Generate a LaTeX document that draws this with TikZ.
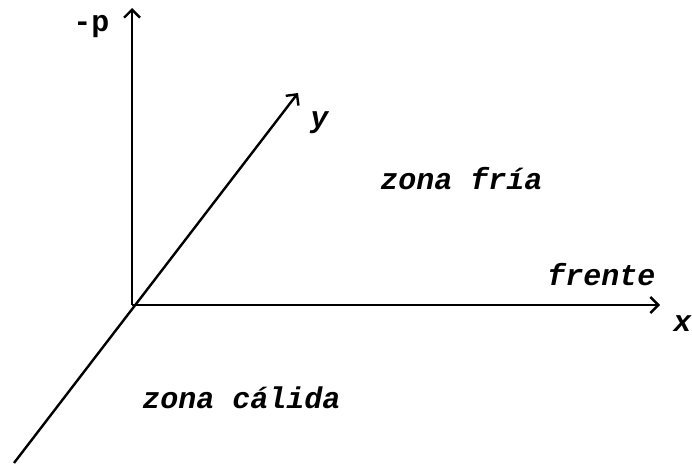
\documentclass[tikz,border=0pt]{standalone}
\usepackage{fontspec}
\usepackage{tikz}
\usetikzlibrary{arrows.meta}
\newfontfamily\labfont{Liberation Mono}

\tikzset{
  axis/.style={line width=1.2pt,-{Straight Barb[length=4pt,width=8pt,line width=1.2pt]}},
  lbl/.style={font=\labfont\fontsize{15}{18}\selectfont\bfseries\itshape,inner sep=0pt,anchor=base west},
}

\begin{document}
\begin{tikzpicture}[x=0.5pt, y=-0.5pt]
  \useasboundingbox (0,0) rectangle (692,466);
  %% axis ends
  \coordinate (O) at (132,305);
  \coordinate (pTop) at (132,8);
  \coordinate (xEnd) at (660,305);
  \coordinate (yEnd) at (298,93);
  \coordinate (yLow) at (14,463);
  %% axes
  \draw[axis] (O) -- (pTop);
  \draw[axis] (O) -- (xEnd);
  \draw[axis] (yLow) -- (yEnd);
  %% labels
  \node[lbl,font=\labfont\fontsize{15}{18}\selectfont\bfseries] (lblP) at (73,32) {-p};
  \node[lbl] (lblY) at (310,127) {y};
  \node[lbl] (lblX) at (673,331) {x};
  \node[lbl] (fria) at (380,189) {zona fría};
  \node[lbl] (frente) at (547,285) {frente};
  \node[lbl] (calida) at (142,408) {zona cálida};
\end{tikzpicture}
\end{document}
